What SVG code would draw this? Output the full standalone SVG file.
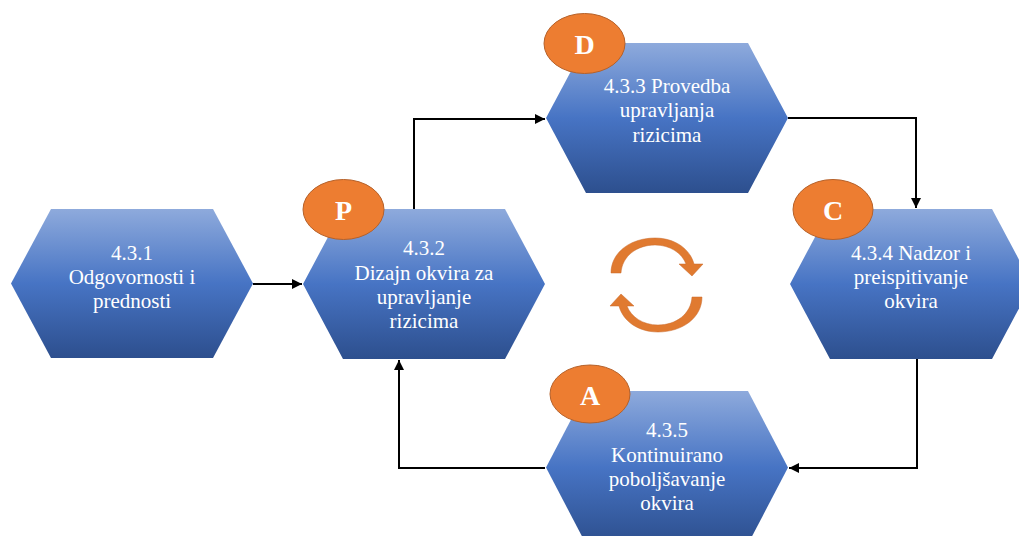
<svg xmlns="http://www.w3.org/2000/svg" width="1019" height="536" viewBox="0 0 1019 536">
<defs>
<linearGradient id="hexGrad" x1="0" y1="0" x2="0" y2="1">
<stop offset="0" stop-color="#8eaadc"/>
<stop offset="0.5" stop-color="#4774c4"/>
<stop offset="1" stop-color="#2d4f8e"/>
</linearGradient>
<marker id="arr" viewBox="0 0 10 10" refX="10" refY="5" markerWidth="5" markerHeight="5" orient="auto" markerUnits="strokeWidth">
<path d="M0,0 L10,5 L0,10 Z" fill="#000"/>
</marker>
<path id="cyc" d="M611,273 C611,252 631,238 655,238 C675,238 690,249 694,264 L703,264 L692,276 L679,264 L686,264 C682,253 670,245 655,245 C637,245 622,256 621,273 Z"/>
</defs>
<style>
.hex{fill:url(#hexGrad);stroke:none}
.lbl{font-family:"Liberation Serif","Times New Roman",serif;font-size:21px;fill:#ffffff;text-anchor:middle}
.badge{fill:#ed7d31;stroke:#b5612a;stroke-width:1}
.let{font-family:"Liberation Serif","Times New Roman",serif;font-size:28px;font-weight:bold;fill:#ffffff;text-anchor:middle}
.con{fill:none;stroke:#000;stroke-width:2;marker-end:url(#arr)}
.cyc{fill:#e07a30;stroke:#c8692a;stroke-width:0.5}
</style>
<rect width="1019" height="536" fill="#ffffff"/>
<g id="connectors">
<path class="con" d="M253,284 L302,284"/>
<path class="con" d="M414,209 L414,119 L545,119"/>
<path class="con" d="M788,118 L916,118 L916,208"/>
<path class="con" d="M917,359 L917,468 L789,468"/>
<path class="con" d="M545,468 L399,468 L399,360"/>
</g>
<g id="node1">
<polygon class="hex" points="11,283.5 51,209 213,209 253,283.5 213,358 51,358"/>
<text class="lbl" x="132" y="260">4.3.1</text>
<text class="lbl" x="132" y="284">Odgovornosti i</text>
<text class="lbl" x="132" y="308">prednosti</text>
</g>
<g id="node2">
<polygon class="hex" points="303,284 343,209 505,209 545,284 505,359 343,359"/>
<text class="lbl" x="424" y="255">4.3.2</text>
<text class="lbl" x="424" y="280">Dizajn okvira za</text>
<text class="lbl" x="424" y="304">upravljanje</text>
<text class="lbl" x="424" y="328">rizicima</text>
<ellipse class="badge" cx="343.5" cy="209.5" rx="40.5" ry="30"/>
<text class="let" x="343.5" y="220">P</text>
</g>
<g id="node3">
<polygon class="hex" points="546,118 586,43 748,43 788,118 748,193 586,193"/>
<text class="lbl" x="667" y="93">4.3.3 Provedba</text>
<text class="lbl" x="667" y="117">upravljanja</text>
<text class="lbl" x="667" y="142">rizicima</text>
<ellipse class="badge" cx="584.5" cy="43.5" rx="40.5" ry="30"/>
<text class="let" x="584.5" y="54">D</text>
</g>
<g id="node4">
<polygon class="hex" points="790,284 830,209 992,209 1032,284 992,359 830,359"/>
<text class="lbl" x="911" y="260">4.3.4 Nadzor i</text>
<text class="lbl" x="911" y="284">preispitivanje</text>
<text class="lbl" x="911" y="308">okvira</text>
<ellipse class="badge" cx="833" cy="209.5" rx="40" ry="30"/>
<text class="let" x="833" y="220">C</text>
</g>
<g id="node5">
<polygon class="hex" points="546,467.5 586,391 748,391 788,467.5 748,544 586,544"/>
<text class="lbl" x="667" y="437">4.3.5</text>
<text class="lbl" x="667" y="462">Kontinuirano</text>
<text class="lbl" x="667" y="486">poboljšavanje</text>
<text class="lbl" x="667" y="510">okvira</text>
<ellipse class="badge" cx="590" cy="394" rx="40" ry="29"/>
<text class="let" x="590" y="405">A</text>
</g>
<g id="cycle">
<use href="#cyc" class="cyc"/>
<use href="#cyc" class="cyc" transform="rotate(180 656.5 285)"/>
</g>
</svg>
